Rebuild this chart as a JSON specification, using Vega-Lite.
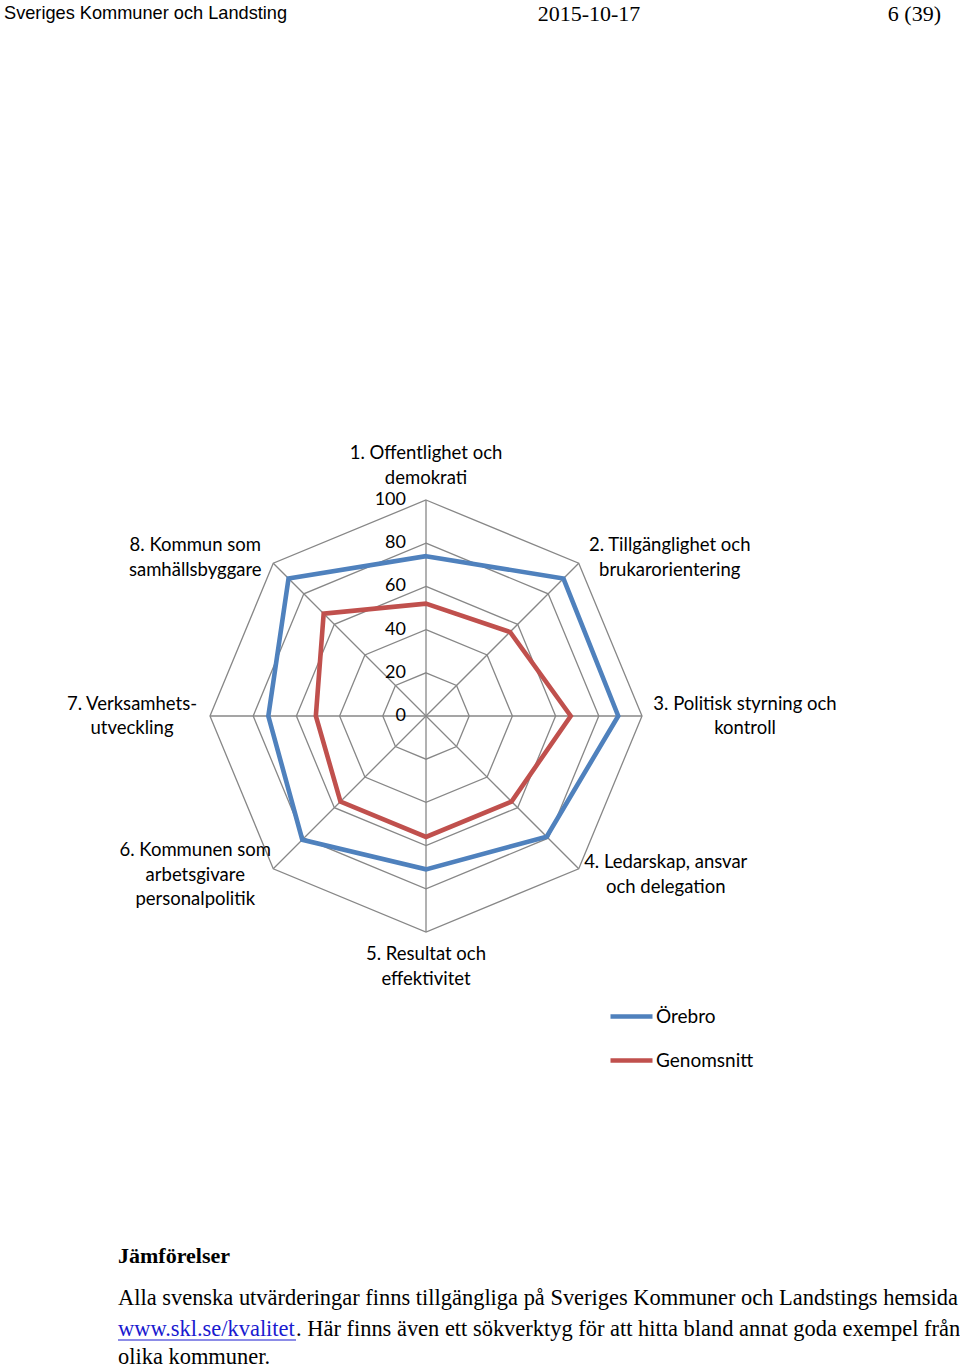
{
  "$schema": "https://vega.github.io/schema/vega-lite/v6.json",
  "width": 960,
  "height": 1368,
  "autosize": "none",
  "padding": 0,
  "background": "white",
  "config": {"view": {"stroke": null}},
  "datasets": {
    "scores": [
      {"axis": 1, "series": "Örebro", "value": 74},
      {"axis": 2, "series": "Örebro", "value": 90},
      {"axis": 3, "series": "Örebro", "value": 89},
      {"axis": 4, "series": "Örebro", "value": 79},
      {"axis": 5, "series": "Örebro", "value": 71},
      {"axis": 6, "series": "Örebro", "value": 81},
      {"axis": 7, "series": "Örebro", "value": 73},
      {"axis": 8, "series": "Örebro", "value": 90},
      {"axis": 1, "series": "Genomsnitt", "value": 52},
      {"axis": 2, "series": "Genomsnitt", "value": 55},
      {"axis": 3, "series": "Genomsnitt", "value": 67},
      {"axis": 4, "series": "Genomsnitt", "value": 56},
      {"axis": 5, "series": "Genomsnitt", "value": 56},
      {"axis": 6, "series": "Genomsnitt", "value": 56},
      {"axis": 7, "series": "Genomsnitt", "value": 51},
      {"axis": 8, "series": "Genomsnitt", "value": 67}
    ],
    "axes": [
      {"axis": 1, "label": "1. Offentlighet och\ndemokrati", "rings": [20, 40, 60, 80, 100]},
      {"axis": 2, "label": "2. Tillgänglighet och\nbrukarorientering", "rings": [20, 40, 60, 80, 100]},
      {"axis": 3, "label": "3. Politisk styrning och\nkontroll", "rings": [20, 40, 60, 80, 100]},
      {"axis": 4, "label": "4. Ledarskap, ansvar\noch delegation", "rings": [20, 40, 60, 80, 100]},
      {"axis": 5, "label": "5. Resultat och\neffektivitet", "rings": [20, 40, 60, 80, 100]},
      {"axis": 6, "label": "6. Kommunen som\narbetsgivare\npersonalpolitik", "rings": [20, 40, 60, 80, 100]},
      {"axis": 7, "label": "7. Verksamhets-\nutveckling", "rings": [20, 40, 60, 80, 100]},
      {"axis": 8, "label": "8. Kommun som\nsamhällsbyggare", "rings": [20, 40, 60, 80, 100]}
    ],
    "ticks": [{"tick": 0}, {"tick": 20}, {"tick": 40}, {"tick": 60}, {"tick": 80}, {"tick": 100}],
    "page": [
      {"role": "hleft", "text": "Sveriges Kommuner och Landsting"},
      {"role": "hdate", "text": "2015-10-17"},
      {"role": "hpage", "text": "6 (39)"},
      {"role": "heading", "text": "Jämförelser"},
      {"role": "p1", "text": "Alla svenska utvärderingar finns tillgängliga på Sveriges Kommuner och Landstings hemsida"},
      {"role": "link", "text": "www.skl.se/kvalitet"},
      {"role": "p2", "text": ". Här finns även ett sökverktyg för att hitta bland annat goda exempel från"},
      {"role": "p3", "text": "olika kommuner."}
    ]
  },
  "layer": [
    {
      "data": {"name": "axes"},
      "transform": [
        {"calculate": "(datum.axis - 1) * PI / 4", "as": "a"},
        {"calculate": "0", "as": "x0"},
        {"calculate": "0", "as": "y0"},
        {"calculate": "100 * sin(datum.a)", "as": "ex"},
        {"calculate": "100 * cos(datum.a)", "as": "ey"}
      ],
      "mark": {"type": "rule", "color": "#878787", "strokeWidth": 1.3},
      "encoding": {
        "x": {"field": "x0", "type": "quantitative", "scale": {"domain": [-197.2222, 247.2222], "nice": false, "zero": false}, "axis": null},
        "y": {"field": "y0", "type": "quantitative", "scale": {"domain": [-301.8519, 331.4815], "nice": false, "zero": false}, "axis": null},
        "x2": {"field": "ex"},
        "y2": {"field": "ey"}
      }
    },
    {
      "data": {"name": "axes"},
      "transform": [
        {"flatten": ["rings"], "as": ["ring"]},
        {"calculate": "(datum.axis - 1) * PI / 4", "as": "a"},
        {"calculate": "datum.ring * sin(datum.a)", "as": "x"},
        {"calculate": "datum.ring * cos(datum.a)", "as": "y"}
      ],
      "mark": {"type": "line", "interpolate": "linear-closed", "color": "#878787", "strokeWidth": 1.3},
      "encoding": {
        "x": {"field": "x", "type": "quantitative", "scale": {"domain": [-197.2222, 247.2222], "nice": false, "zero": false}, "axis": null},
        "y": {"field": "y", "type": "quantitative", "scale": {"domain": [-301.8519, 331.4815], "nice": false, "zero": false}, "axis": null},
        "detail": {"field": "ring", "type": "nominal"},
        "order": {"field": "axis", "type": "quantitative"}
      }
    },
    {
      "data": {"name": "scores"},
      "transform": [
        {"calculate": "(datum.axis - 1) * PI / 4", "as": "a"},
        {"calculate": "datum.value * sin(datum.a)", "as": "x"},
        {"calculate": "datum.value * cos(datum.a)", "as": "y"}
      ],
      "mark": {"type": "line", "interpolate": "linear-closed", "strokeWidth": 4.6, "strokeJoin": "miter"},
      "encoding": {
        "x": {"field": "x", "type": "quantitative", "scale": {"domain": [-197.2222, 247.2222], "nice": false, "zero": false}, "axis": null},
        "y": {"field": "y", "type": "quantitative", "scale": {"domain": [-301.8519, 331.4815], "nice": false, "zero": false}, "axis": null},
        "order": {"field": "axis", "type": "quantitative"},
        "color": {
          "field": "series",
          "type": "nominal",
          "scale": {"domain": ["Örebro", "Genomsnitt"], "range": ["#4F81BD", "#C0504D"]},
          "legend": {
            "title": null,
            "orient": "none",
            "legendX": 608,
            "legendY": 993,
            "symbolType": "stroke",
            "symbolSize": 1764,
            "symbolStrokeWidth": 4.6,
            "labelFont": "Lato",
            "labelFontSize": 19,
            "labelColor": "#000000",
            "labelOffset": 1,
            "rowPadding": 10,
            "padding": 0
          }
        }
      }
    },
    {
      "data": {"name": "ticks"},
      "transform": [{"calculate": "0", "as": "x"}],
      "mark": {"type": "text", "align": "right", "baseline": "middle", "dx": -20, "font": "Lato", "fontSize": 18, "color": "#000000"},
      "encoding": {
        "x": {"field": "x", "type": "quantitative", "scale": {"domain": [-197.2222, 247.2222], "nice": false, "zero": false}, "axis": null},
        "y": {"field": "tick", "type": "quantitative", "scale": {"domain": [-301.8519, 331.4815], "nice": false, "zero": false}, "axis": null},
        "text": {"field": "tick", "type": "quantitative"}
      }
    },
    {
      "data": {"name": "axes"},
      "transform": [
        {"calculate": "(datum.axis - 1) * PI / 4", "as": "a"},
        {"calculate": "sin(datum.a)", "as": "sn"},
        {"calculate": "cos(datum.a)", "as": "cs"},
        {"calculate": "split(datum.label, '\\n')", "as": "lines"},
        {"calculate": "max(length(datum.lines[0]), length(datum.lines) > 1 ? length(datum.lines[1]) : 0, length(datum.lines) > 2 ? length(datum.lines[2]) : 0)", "as": "maxlen"},
        {"calculate": "datum.sn > 0.1 ? 1 : (datum.sn < -0.1 ? -1 : 0)", "as": "s"},
        {"calculate": "datum.cs > 0.1 ? 1 : (datum.cs < -0.1 ? -1 : 0)", "as": "c"},
        {"calculate": "100 * datum.sn + datum.s * ((datum.s > 0 ? 7 : 18) + datum.maxlen * 4.0) / 2.16", "as": "lx"},
        {"calculate": "100 * datum.cs + ((datum.s == 0 ? datum.c * 34.5 : datum.c * 6) + (length(datum.lines) - 1) * 12.25) / 2.16", "as": "ly"}
      ],
      "mark": {"type": "text", "align": "center", "baseline": "middle", "lineBreak": "\n", "lineHeight": 24.5, "font": "Lato", "fontSize": 18.5, "color": "#000000"},
      "encoding": {
        "x": {"field": "lx", "type": "quantitative", "scale": {"domain": [-197.2222, 247.2222], "nice": false, "zero": false}, "axis": null},
        "y": {"field": "ly", "type": "quantitative", "scale": {"domain": [-301.8519, 331.4815], "nice": false, "zero": false}, "axis": null},
        "text": {"field": "label", "type": "nominal"}
      }
    },
    {
      "data": {"name": "page"},
      "transform": [{"filter": "datum.role == 'hleft'"}],
      "mark": {"type": "text", "align": "left", "baseline": "middle", "font": "Liberation Sans", "fontSize": 18.2, "color": "#000000"},
      "encoding": {
        "x": {"datum": -195.370, "type": "quantitative", "scale": {"domain": [-197.2222, 247.2222], "nice": false, "zero": false}, "axis": null},
        "y": {"datum": 325.0, "type": "quantitative", "scale": {"domain": [-301.8519, 331.4815], "nice": false, "zero": false}, "axis": null},
        "text": {"field": "text", "type": "nominal"}
      }
    },
    {
      "data": {"name": "page"},
      "transform": [{"filter": "datum.role == 'hdate'"}],
      "mark": {"type": "text", "align": "center", "baseline": "middle", "font": "Liberation Serif", "fontSize": 22, "color": "#000000"},
      "encoding": {
        "x": {"datum": 75.463, "type": "quantitative", "scale": {"domain": [-197.2222, 247.2222], "nice": false, "zero": false}, "axis": null},
        "y": {"datum": 325.0, "type": "quantitative", "scale": {"domain": [-301.8519, 331.4815], "nice": false, "zero": false}, "axis": null},
        "text": {"field": "text", "type": "nominal"}
      }
    },
    {
      "data": {"name": "page"},
      "transform": [{"filter": "datum.role == 'hpage'"}],
      "mark": {"type": "text", "align": "right", "baseline": "middle", "font": "Liberation Serif", "fontSize": 22, "color": "#000000"},
      "encoding": {
        "x": {"datum": 238.426, "type": "quantitative", "scale": {"domain": [-197.2222, 247.2222], "nice": false, "zero": false}, "axis": null},
        "y": {"datum": 325.0, "type": "quantitative", "scale": {"domain": [-301.8519, 331.4815], "nice": false, "zero": false}, "axis": null},
        "text": {"field": "text", "type": "nominal"}
      }
    },
    {
      "data": {"name": "page"},
      "transform": [{"filter": "datum.role == 'heading'"}],
      "mark": {"type": "text", "align": "left", "baseline": "middle", "font": "Liberation Serif", "fontSize": 22, "fontWeight": "bold", "color": "#000000"},
      "encoding": {
        "x": {"datum": -142.593, "type": "quantitative", "scale": {"domain": [-197.2222, 247.2222], "nice": false, "zero": false}, "axis": null},
        "y": {"datum": -250.0, "type": "quantitative", "scale": {"domain": [-301.8519, 331.4815], "nice": false, "zero": false}, "axis": null},
        "text": {"field": "text", "type": "nominal"}
      }
    },
    {
      "data": {"name": "page"},
      "transform": [{"filter": "datum.role == 'p1'"}],
      "mark": {"type": "text", "align": "left", "baseline": "middle", "font": "Liberation Serif", "fontSize": 22.45, "color": "#000000"},
      "encoding": {
        "x": {"datum": -142.593, "type": "quantitative", "scale": {"domain": [-197.2222, 247.2222], "nice": false, "zero": false}, "axis": null},
        "y": {"datum": -269.444, "type": "quantitative", "scale": {"domain": [-301.8519, 331.4815], "nice": false, "zero": false}, "axis": null},
        "text": {"field": "text", "type": "nominal"}
      }
    },
    {
      "data": {"name": "page"},
      "transform": [{"filter": "datum.role == 'link'"}],
      "mark": {"type": "text", "align": "left", "baseline": "middle", "font": "Liberation Serif", "fontSize": 22.45, "color": "#1a1ad0"},
      "encoding": {
        "x": {"datum": -142.593, "type": "quantitative", "scale": {"domain": [-197.2222, 247.2222], "nice": false, "zero": false}, "axis": null},
        "y": {"datum": -283.796, "type": "quantitative", "scale": {"domain": [-301.8519, 331.4815], "nice": false, "zero": false}, "axis": null},
        "text": {"field": "text", "type": "nominal"}
      }
    },
    {
      "data": {"name": "page"},
      "transform": [{"filter": "datum.role == 'link'"}],
      "mark": {"type": "rule", "color": "#1a1ad0", "strokeWidth": 1.2},
      "encoding": {
        "x": {"datum": -142.593, "type": "quantitative", "scale": {"domain": [-197.2222, 247.2222], "nice": false, "zero": false}, "axis": null},
        "x2": {"datum": -60.185},
        "y": {"datum": -288.889, "type": "quantitative", "scale": {"domain": [-301.8519, 331.4815], "nice": false, "zero": false}, "axis": null}
      }
    },
    {
      "data": {"name": "page"},
      "transform": [{"filter": "datum.role == 'p2'"}],
      "mark": {"type": "text", "align": "left", "baseline": "middle", "font": "Liberation Serif", "fontSize": 22.45, "color": "#000000"},
      "encoding": {
        "x": {"datum": -60.185, "type": "quantitative", "scale": {"domain": [-197.2222, 247.2222], "nice": false, "zero": false}, "axis": null},
        "y": {"datum": -283.796, "type": "quantitative", "scale": {"domain": [-301.8519, 331.4815], "nice": false, "zero": false}, "axis": null},
        "text": {"field": "text", "type": "nominal"}
      }
    },
    {
      "data": {"name": "page"},
      "transform": [{"filter": "datum.role == 'p3'"}],
      "mark": {"type": "text", "align": "left", "baseline": "middle", "font": "Liberation Serif", "fontSize": 22.45, "color": "#000000"},
      "encoding": {
        "x": {"datum": -142.593, "type": "quantitative", "scale": {"domain": [-197.2222, 247.2222], "nice": false, "zero": false}, "axis": null},
        "y": {"datum": -296.9, "type": "quantitative", "scale": {"domain": [-301.8519, 331.4815], "nice": false, "zero": false}, "axis": null},
        "text": {"field": "text", "type": "nominal"}
      }
    }
  ]
}
